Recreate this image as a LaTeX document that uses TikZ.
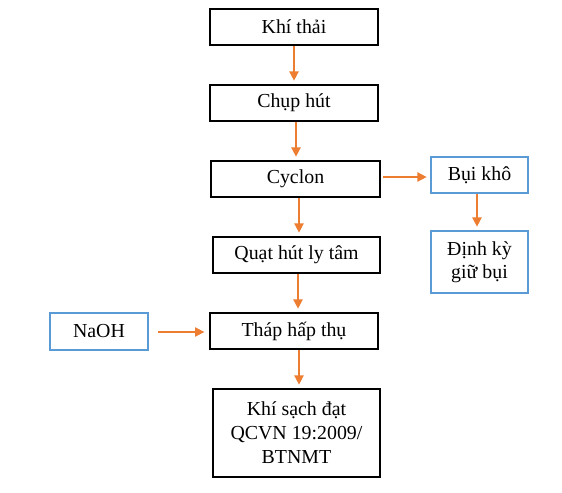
\documentclass[tikz,border=0pt]{standalone}
\usepackage{fontspec}
\setmainfont{Liberation Serif}
\usetikzlibrary{arrows.meta}
\definecolor{arrorange}{RGB}{237,125,49}
\definecolor{boxblue}{RGB}{91,155,213}
\tikzset{
  blk/.style={draw=black, line width=1.5pt, rectangle, inner sep=0pt, align=center,
    font=\fontsize{14.9}{18}\selectfont},
  blu/.style={draw=boxblue, line width=1.5pt, rectangle, inner sep=0pt, align=center,
    font=\fontsize{14.9}{17.5}\selectfont},
  arr/.style={draw=arrorange, line width=1.1pt, -{Triangle[length=7pt,width=7pt]}},
}
\begin{document}
\begin{tikzpicture}[x=0.75pt,y=-0.75pt]
\useasboundingbox (0,0) rectangle (562,493);
\node[blk, minimum width=126pt, minimum height=27pt] (k1) at (294,27) {Khí thải};
\node[blk, minimum width=126pt, minimum height=27pt] (k2) at (294,103) {Chụp hút};
\node[blk, minimum width=126.75pt, minimum height=27pt] (k3) at (295.5,179) {Cyclon};
\node[blk, minimum width=125.25pt, minimum height=27pt] (k4) at (296.5,255) {Quạt hút ly tâm};
\node[blk, minimum width=126pt, minimum height=27pt] (k5) at (294,331) {Tháp hấp thụ};
\node[blk, minimum width=125.25pt, minimum height=66pt] (k6) at (296.5,433) {Khí sạch đạt\\QCVN 19:2009/\\BTNMT};
\node[blu, minimum width=72.75pt, minimum height=27pt] (b1) at (479.5,175) {Bụi khô};
\node[blu, minimum width=72.75pt, minimum height=46.5pt] (b2) at (479.5,262) {Định kỳ\\giữ bụi};
\node[blu, minimum width=73.5pt, minimum height=27.75pt] (n1) at (99,331.5) {NaOH};
\coordinate (c1) at (294,0);
\coordinate (c2) at (296,0);
\coordinate (c3) at (299,0);
\coordinate (c4) at (298,0);
\coordinate (c5) at (299,0);
\coordinate (c6) at (477,0);
\draw[arr, shorten >=2.5pt] (k1.south -| c1) -- (k2.north -| c1);
\draw[arr, shorten >=2.5pt] (k2.south -| c2) -- (k3.north -| c2);
\draw[arr, shorten >=2.5pt] (k3.south -| c3) -- (k4.north -| c3);
\draw[arr, shorten >=2.5pt] (k4.south -| c4) -- (k5.north -| c4);
\draw[arr, shorten >=2.5pt] (k5.south -| c5) -- (k6.north -| c5);
\draw[arr, shorten >=2.5pt] (b1.south -| c6) -- (b2.north -| c6);
\coordinate (h1) at (0,177);
\draw[arr, shorten <=1.5pt, shorten >=2.5pt] (k3.east |- h1) -- (b1.west |- h1);
\coordinate (h2) at (0,332);
\draw[arr, shorten <=7pt, shorten >=3.5pt] (n1.east |- h2) -- (k5.west |- h2);
\end{tikzpicture}
\end{document}
